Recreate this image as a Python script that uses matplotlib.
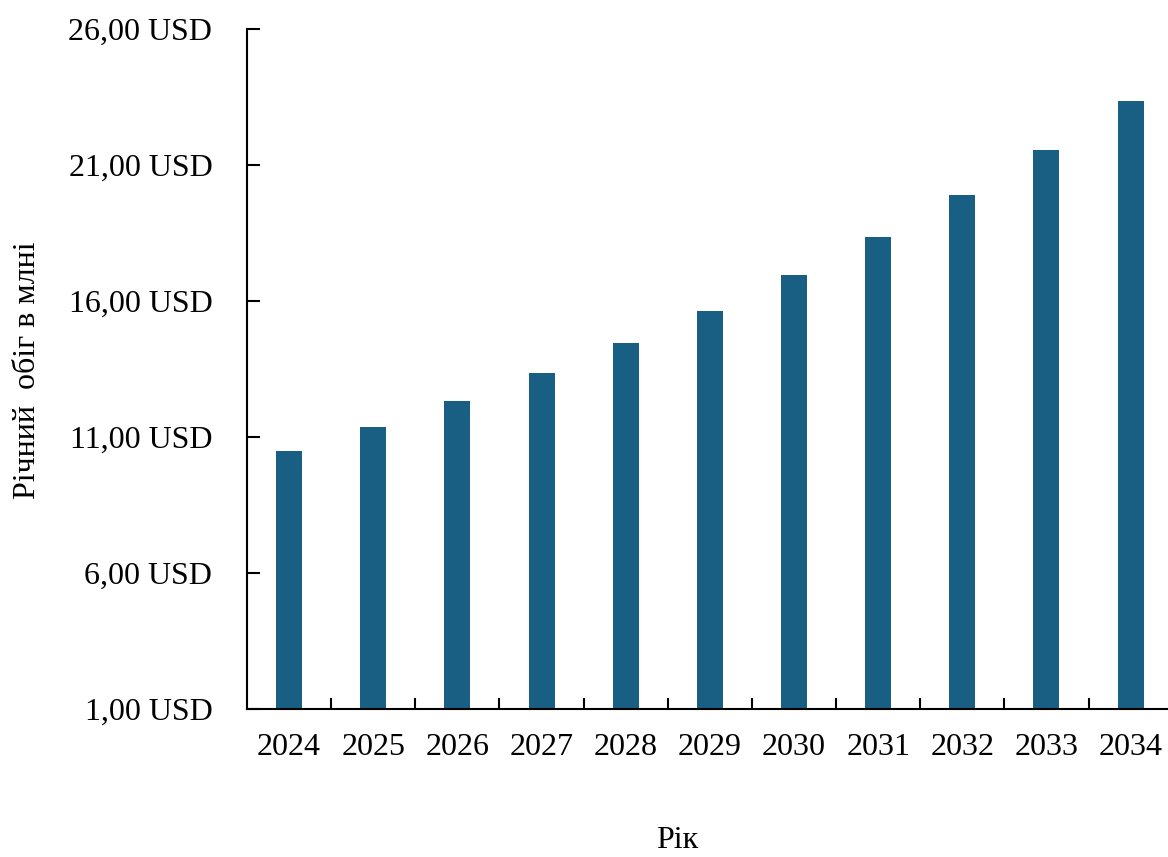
import matplotlib.pyplot as plt
import numpy as np
from matplotlib.ticker import FixedLocator

plt.rcParams['font.family'] = ['Liberation Serif', 'DejaVu Serif']

years = ['2024', '2025', '2026', '2027', '2028', '2029', '2030', '2031', '2032', '2033', '2034']
revenue = [10.49, 11.37, 12.32, 13.35, 14.46, 15.63, 16.96, 18.35, 19.90, 21.55, 23.35]
y_ticks = [1, 6, 11, 16, 21, 26]

fig = plt.figure(figsize=(11.68, 8.57), dpi=100)
ax = fig.add_axes([0.2115, 0.1727, 0.7925, 0.7935])

x = np.arange(len(years))
ax.bar(x, np.array(revenue) - 1, bottom=1, width=0.31, color='#195f83')

ax.set_xlim(-0.5, len(years) - 0.5)
ax.set_ylim(1, 26)
ax.set_yticks(y_ticks)
ax.set_yticklabels([f'{v:.2f}'.replace('.', ',') + ' USD' for v in y_ticks])
ax.set_xticks(x)
ax.set_xticklabels(years)
ax.xaxis.set_minor_locator(FixedLocator(x[:-1] + 0.5))

ax.tick_params(axis='x', which='major', length=0, pad=17, labelsize=23)
ax.tick_params(axis='x', which='minor', direction='in', length=8, width=1.5)
ax.tick_params(axis='y', direction='in', length=9, width=1.5, pad=25, labelsize=23)

for side in ['top', 'right']:
    ax.spines[side].set_visible(False)
for side in ['left', 'bottom']:
    ax.spines[side].set_linewidth(1.5)

# axis titles placed by hand, as in the original
fig.text(28 / 1168, 1 - 370 / 857, 'Річний  обіг в млні', fontsize=23,
         rotation=90, ha='center', va='center')
fig.text(677 / 1168, 1 - 841 / 857, 'Рік', fontsize=23, ha='center', va='center')

fig.savefig('out.png', dpi=100)
